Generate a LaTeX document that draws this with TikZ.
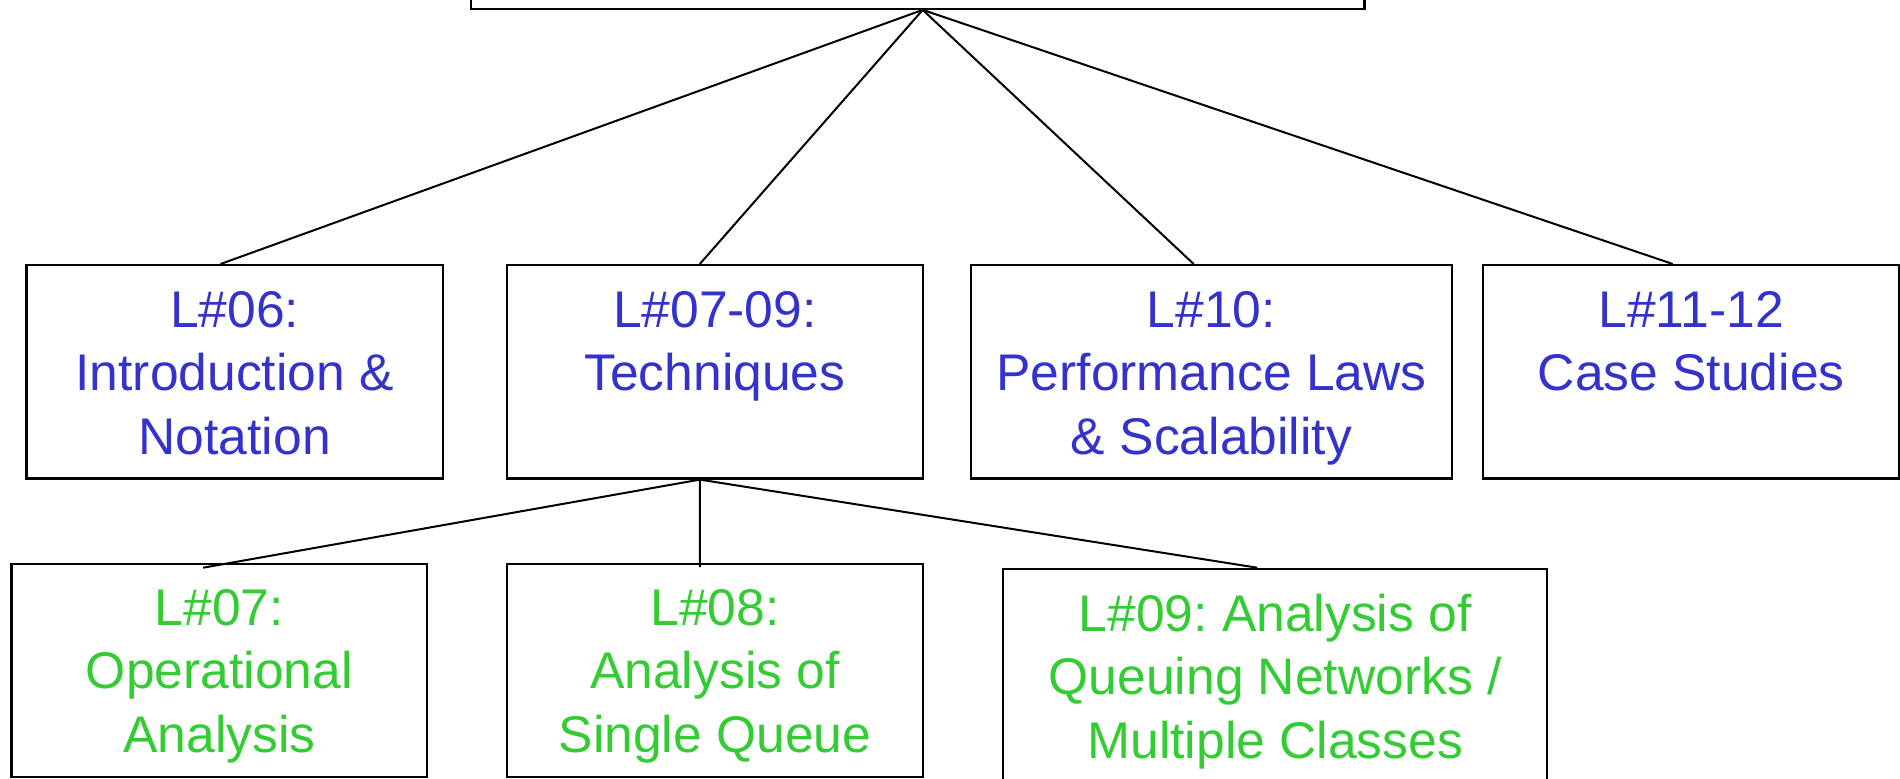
\documentclass[tikz,border=0pt]{standalone}
\usepackage{fontspec}
\setmainfont{Liberation Sans}
\usetikzlibrary{calc}
\definecolor{topicblue}{RGB}{51,51,204}
\definecolor{topicgreen}{RGB}{51,204,51}
\frenchspacing
\begin{document}
\begin{tikzpicture}[x=0.5pt,y=-0.5pt,
  box/.style={draw=black, line width=1.2pt, inner sep=0pt, anchor=north west,
              minimum height=106.6pt},
  link/.style={draw=black, line width=1pt},
  lbl/.style={anchor=north, inner sep=0pt, align=center,
              font=\fontsize{25.8}{31.75}\selectfont},
  blue/.style={lbl, text=topicblue},
  green/.style={lbl, text=topicgreen}]
\useasboundingbox (0,0) rectangle (1900,778);
\clip (0,0) rectangle (1900,778);

% root box (only its lower edge is on the page)
\node[box, minimum width=446.9pt, minimum height=33.75pt] (top) at (469.6,-60) {};

% first level
\node[box, minimum width=208.15pt] (b1) at (25.4,264) {};
\node[box, minimum width=207.8pt]  (b2) at (505.9,264) {};
\node[box, minimum width=240.25pt] (b3) at (970,264) {};
\node[box, minimum width=208pt]    (b4) at (1482,264) {};

% second level
\node[box, minimum width=207.85pt] (c1) at (10.3,562.7) {};
\node[box, minimum width=207.75pt] (c2) at (506,562.7) {};
\node[box, minimum width=272pt, minimum height=120pt] (c3) at (1002,567.7) {};

% labels
\node[blue]  (t1) at ([yshift=-9.1pt]b1.north) {\strut L\#06:\\Introduction \&\\Notation};
\node[blue]  (t2) at ([yshift=-9.1pt]b2.north) {\strut L\#07-09:\\Techniques};
\node[blue]  (t3) at ([yshift=-9.1pt]b3.north) {\strut L\#10:\\Performance Laws\\\& Scalability};
\node[blue]  (t4) at ([yshift=-9.1pt]b4.north) {\strut L\#11-12\\Case Studies};
\node[green] (u1) at ([yshift=-8.9pt]c1.north) {\strut L\#07:\\Operational\\Analysis};
\node[green] (u2) at ([yshift=-8.9pt]c2.north) {\strut L\#08:\\Analysis of\\Single Queue};
\node[green] (u3) at ([yshift=-9.4pt]c3.north) {\strut L\#09: Analysis of\\Queuing Networks /\\Multiple Classes};

% connectors
\draw[link] ([xshift=2.5pt]top.south) -- ([xshift=-7.1pt]b1.north);
\draw[link] ([xshift=2.5pt]top.south) -- ([xshift=-7.55pt]b2.north);
\draw[link] ([xshift=2.5pt]top.south) -- ([xshift=-8.9pt]b3.north);
\draw[link] ([xshift=2.5pt]top.south) -- ([xshift=-9.2pt]b4.north);

\draw[link] ([xshift=-7.5pt]b2.south) -- ([xshift=-8.1pt,yshift=-2.5pt]c1.north);
\draw[link] ([xshift=-7.5pt]b2.south) -- ([xshift=-7.6pt,yshift=-2.2pt]c2.north);
\draw[link] ([xshift=-7.5pt]b2.south) -- ([xshift=-9pt]c3.north);
\end{tikzpicture}
\end{document}
